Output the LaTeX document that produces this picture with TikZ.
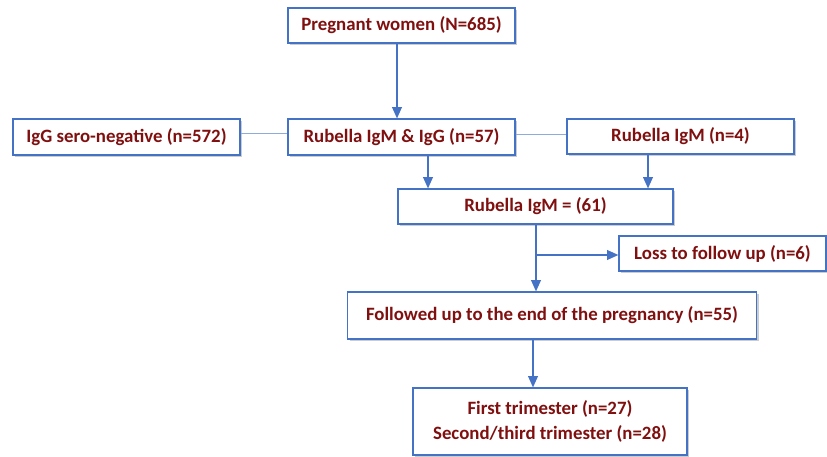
\documentclass[tikz,border=0pt]{standalone}
\usepackage{fontspec}
\setmainfont{Carlito}
\usetikzlibrary{shadows,arrows.meta}
\definecolor{boxblue}{HTML}{4472C4}
\definecolor{lineblue}{HTML}{8FAADC}
\definecolor{txtred}{RGB}{128,16,16}
\tikzset{
  flowbox/.style={draw=boxblue, line width=0.8pt, fill=white, text=txtred,
    font=\fontsize{13.4}{17.8}\selectfont\bfseries, inner sep=0pt, align=center,
    drop shadow={shadow xshift=0.6mm, shadow yshift=-0.6mm, fill=black!40, opacity=0.5}},
  flowarrow/.style={draw=boxblue, line width=1.1pt, -{Triangle[length=2.8mm, width=2.4mm]}},
  flowlink/.style={draw=lineblue, line width=0.7pt}
}
\begin{document}
\begin{tikzpicture}[x=0.025cm, y=-0.025cm]
			%%%%% START %%%%%
			
			\useasboundingbox (0, 0) rectangle (827, 457);
			
			\node[flowbox, minimum width=5.675cm, minimum height=0.875cm] (preg) at (401.5, 25.5) {Pregnant women (N=685)};
			
			\node[flowbox, minimum width=5.675cm, minimum height=0.9cm] (neg) at (126.5, 137) {IgG sero-negative (n=572)};
			\node[flowbox, minimum width=5.675cm, minimum height=0.9cm] (igmg) at (401.5, 137) {Rubella IgM \& IgG (n=57)};
			\node[flowbox, minimum width=5.675cm, minimum height=0.875cm] (igmfour) at (680.5, 136.5) {Rubella IgM (n=4)};
			
			\node[flowbox, minimum width=6.875cm, minimum height=0.875cm] (igmall) at (535.5, 206.5) {Rubella IgM = (61)};
			
			\node[flowbox, minimum width=5.175cm, minimum height=0.875cm] (loss) at (722.5, 253.5) {Loss to follow up (n=6)};
			
			\node[flowbox, minimum width=10.225cm, minimum height=1.175cm] (foll) at (552, 315.5) {Followed up to the end of the pregnancy (n=55)};
			
			\node[flowbox, minimum width=6.85cm, minimum height=1.675cm] (trim) at (550, 421.5) {First trimester (n=27)\\Second/third trimester (n=28)};
			
			\draw[flowarrow] (397, 0 |- preg.south) -- (397, 0 |- igmg.north);
			
			\draw[flowlink] (neg.east |- 0, 133) -- (igmg.west |- 0, 133);
			\draw[flowlink] (igmg.east |- 0, 134) -- (igmfour.west |- 0, 134);
			
			\draw[flowarrow] (428, 0 |- igmg.south) -- (428, 0 |- igmall.north);
			\draw[flowarrow] (648, 0 |- igmfour.south) -- (648, 0 |- igmall.north);
			
			\draw[flowarrow] (536, 0 |- igmall.south) -- (536, 0 |- foll.north);
			\coordinate (branch) at (536, 255);
			\draw[flowarrow] (branch) -- (branch -| loss.west);
			
			\draw[flowarrow] (533, 0 |- foll.south) -- (533, 0 |- trim.north);
			
			%%%%% END %%%%%
		\end{tikzpicture}
\end{document}
